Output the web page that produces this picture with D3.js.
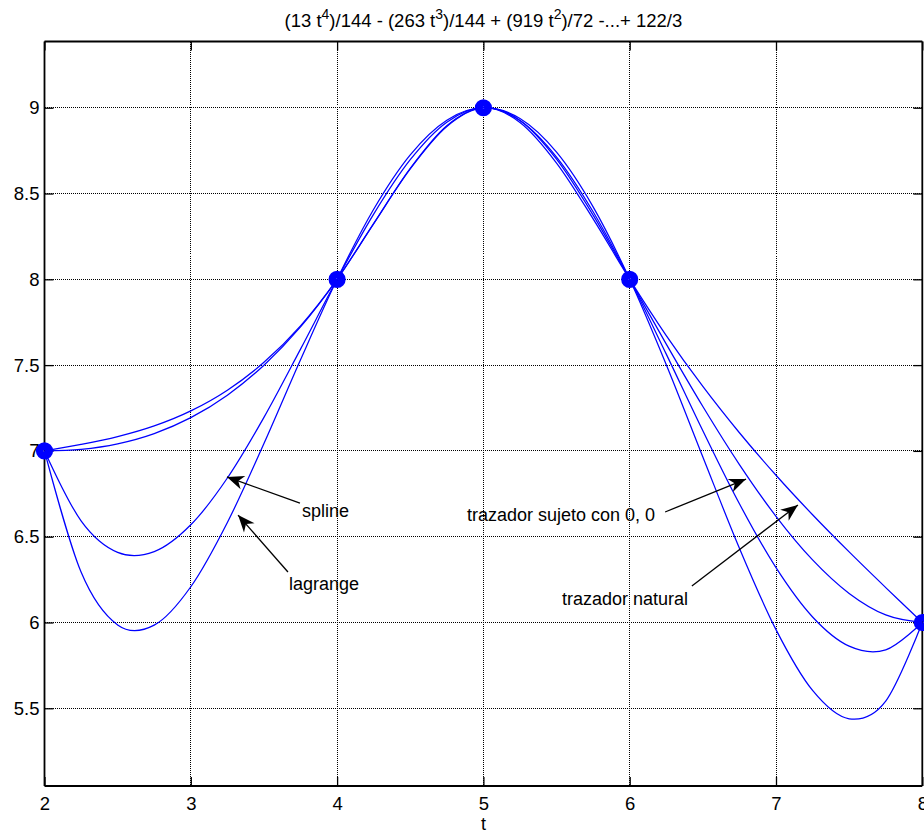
<!DOCTYPE html>
<html><head><meta charset="utf-8">
<script src="https://cdn.jsdelivr.net/npm/d3@7"></script>
<style>body{margin:0;background:#fff}svg{display:block}</style>
</head><body><svg id="c" width="924" height="834"></svg>
<script>
// ---- data ----
const tSamples = [2,2.25,2.5,2.75,3,3.25,3.5,3.75,4,4.25,4.5,4.75,5,5.25,5.5,5.75,6,6.25,6.5,6.75,7,7.25,7.5,7.75,8];
const lagrangeY = [7,6.2939,5.9857,5.9846,6.2083,6.5829,7.0430,7.5315,8,8.4084,8.7253,8.9273,9,8.9371,8.7409,8.4221,8,7.5022,6.9648,6.4325,5.9583,5.6038,5.4388,5.5419,6];
const splineY   = [7,6.5926,6.4089,6.4131,6.5694,6.8421,7.1953,7.5932,8,8.3799,8.6970,8.9157,9,8.9255,8.7127,8.3936,8,7.5639,7.1172,6.6917,6.3194,6.0322,5.8620,5.8406,6];
const naturalY  = [7,7.0374,7.0831,7.1455,7.2330,7.3538,7.5163,7.7290,8,8.3248,8.6463,8.8947,9,8.9142,8.6776,8.3521,8,7.6723,7.3757,7.1057,6.8580,6.6279,6.4112,6.2034,6];
const clampedY  = [7,7.0095,7.0414,7.1011,7.1938,7.3247,7.4992,7.7226,8,8.3250,8.6438,8.8906,9,8.9258,8.7000,8.3742,8,7.6222,7.2586,6.9204,6.6188,6.3647,6.1695,6.0442,6];
const knotT = [2,4,5,6,8];
const knotY = [7,8,9,8,6];
const xTicks = [2,3,4,5,6,7,8];
const yTicks = [5.5,6,6.5,7,7.5,8,8.5,9];
const annLabels = ["spline","lagrange","trazador sujeto con 0, 0","trazador natural"];
const annTipT  = [3.247,3.323,6.795,7.150];
const annTipY  = [6.848,6.626,6.836,6.685];
const annTailT = [3.746,3.664,6.242,6.425];
const annTailY = [6.696,6.294,6.644,6.213];
const annTextT = [3.760,3.671,4.888,5.537];
const annTextY = [6.614,6.189,6.592,6.102];

// ---- chart ----
const svg = d3.select("#c");
const L = 44.5, R = 922.3, T = 41.5, B = 786;
const x = d3.scaleLinear().domain([2,8]).range([L,R]);
const y = d3.scaleLinear().domain([5.047,9.386]).range([B,T]);
const font = "'Liberation Sans', Arial, Helvetica, sans-serif";
const px = v => Math.round(v - 0.5) + 0.5;

// grid (dotted)
const g = svg.append("g").attr("shape-rendering","crispEdges");
g.selectAll(".gx").data(xTicks).join("line")
  .attr("x1",d=>px(x(d))).attr("x2",d=>px(x(d))).attr("y1",T).attr("y2",B)
  .attr("stroke","#000").attr("stroke-width",1).attr("stroke-dasharray","1,1");
g.selectAll(".gy").data(yTicks).join("line")
  .attr("y1",d=>px(y(d))).attr("y2",d=>px(y(d))).attr("x1",L).attr("x2",R)
  .attr("stroke","#000").attr("stroke-width",1).attr("stroke-dasharray","1,1");

// axes with inward ticks on all sides
const tk = 9;
const axB = d3.axisBottom(x).tickValues(xTicks).tickSize(-tk).tickPadding(10.5).tickFormat(d3.format("d"));
const axT = d3.axisTop(x).tickValues(xTicks).tickSize(-tk).tickFormat("");
const axL = d3.axisLeft(y).tickValues(yTicks).tickSize(-tk).tickPadding(5).tickFormat(d=>String(d));
const axR = d3.axisRight(y).tickValues(yTicks).tickSize(-tk).tickFormat("");
function styleAx(sel){
  sel.select(".domain").attr("stroke","#000").attr("stroke-width",1.8);
  sel.selectAll(".tick line").attr("stroke","#000").attr("stroke-width",1.3);
  sel.selectAll(".tick text").attr("font-family",font).attr("font-size",18.5).attr("fill","#000");
}
const gB = svg.append("g").attr("transform",`translate(0,${B})`).call(axB); styleAx(gB);
gB.select(".domain").attr("d",`M${L},0H${R}`);
const gT = svg.append("g").attr("transform",`translate(0,${T})`).call(axT); styleAx(gT);
gT.select(".domain").attr("d",`M${L},0H${R}`);
const gL = svg.append("g").attr("transform",`translate(${L},0)`).call(axL); styleAx(gL);
gL.select(".domain").attr("d",`M0,${T}V${B}`);
const gR = svg.append("g").attr("transform",`translate(${R},0)`).call(axR); styleAx(gR);
gR.select(".domain").attr("d",`M0,${T}V${B}`);

// curves
const line = d3.line().x((d,i)=>x(tSamples[i])).y(d=>y(d)).curve(d3.curveCatmullRom.alpha(0));
[lagrangeY, splineY, naturalY, clampedY].forEach(s=>{
  svg.append("path").attr("d",line(s)).attr("fill","none")
    .attr("stroke","#0000ff").attr("stroke-width",1.25);
});

// knot markers
svg.selectAll(".knot").data(knotT).join("circle")
  .attr("cx",d=>x(d)).attr("cy",(d,i)=>y(knotY[i])).attr("r",4.8)
  .attr("fill","none").attr("stroke","#0000ff").attr("stroke-width",7.6);

// annotations
const defs = svg.append("defs");
defs.append("marker").attr("id","ah").attr("viewBox","-18 -8 19 16")
  .attr("refX",0).attr("refY",0).attr("markerWidth",19).attr("markerHeight",16)
  .attr("markerUnits","userSpaceOnUse").attr("orient","auto")
  .append("path").attr("d","M0,0L-17,-7L-12,0L-17,7Z").attr("fill","#000");
annLabels.forEach((lab,i)=>{
  svg.append("line")
    .attr("x1",x(annTailT[i])).attr("y1",y(annTailY[i]))
    .attr("x2",x(annTipT[i])).attr("y2",y(annTipY[i]))
    .attr("stroke","#000").attr("stroke-width",1.3).attr("marker-end","url(#ah)");
  svg.append("text").attr("x",x(annTextT[i])).attr("y",y(annTextY[i]))
    .attr("font-family",font).attr("font-size",18).attr("fill","#000").text(lab);
});

// title
const title = svg.append("text").attr("x",(L+R)/2).attr("y",27).attr("text-anchor","middle")
  .attr("font-family",font).attr("font-size",18.5).attr("fill","#000");
const parts = [["(13 t",0],["4",1],[")/144 - (263 t",0],["3",1],[")/144 + (919 t",0],["2",1],[")/72 -...+ 122/3",0]];
let prevSup = 0;
parts.forEach(([s,sup])=>{
  const ts = title.append("tspan").text(s);
  if (sup) { ts.attr("font-size",14).attr("dy",-8); }
  else if (prevSup) { ts.attr("dy",8); }
  prevSup = sup;
});

// x label
svg.append("text").attr("x",(L+R)/2).attr("y",830).attr("text-anchor","middle")
  .attr("font-family",font).attr("font-size",18).attr("fill","#000").text("t");
</script></body></html>
